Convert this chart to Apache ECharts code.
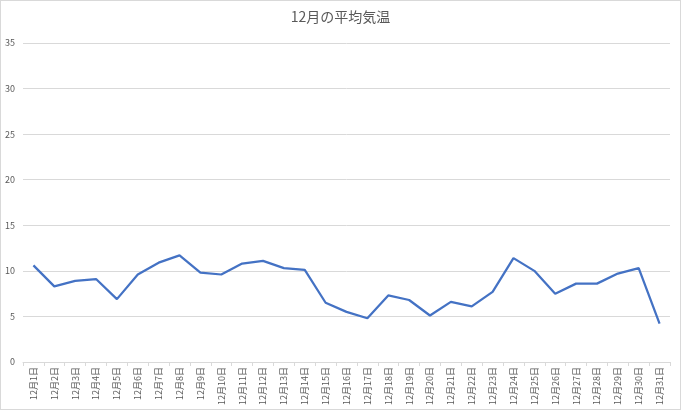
<!DOCTYPE html>
<html>
<head>
<meta charset="utf-8">
<script src="https://cdn.jsdelivr.net/npm/echarts@6/dist/echarts.min.js"></script>
<style>
  html, body { margin: 0; padding: 0; background: #fff; }
  #chart { width: 679px; height: 408px; border: 1px solid #d9d9d9; }
</style>
</head>
<body>
<div id="chart"></div>
<script>
const title = "12月の平均気温";

const days = [
  "12月1日", "12月2日", "12月3日", "12月4日", "12月5日", "12月6日", "12月7日", "12月8日",
  "12月9日", "12月10日", "12月11日", "12月12日", "12月13日", "12月14日", "12月15日", "12月16日",
  "12月17日", "12月18日", "12月19日", "12月20日", "12月21日", "12月22日", "12月23日", "12月24日",
  "12月25日", "12月26日", "12月27日", "12月28日", "12月29日", "12月30日", "12月31日",
];

const avgTemp = [
  10.6, 8.3, 8.9, 9.1, 6.9, 9.6, 10.9, 11.7,
  9.8, 9.6, 10.8, 11.1, 10.3, 10.1, 6.5, 5.5,
  4.8, 7.3, 6.8, 5.1, 6.6, 6.1, 7.7, 11.4,
  10.0, 7.5, 8.6, 8.6, 9.7, 10.3, 4.2,
];

const yMin = 0;
const yMax = 35;
const yStep = 5;

const chart = echarts.init(document.getElementById("chart"));
chart.setOption({
  animation: false,
  textStyle: { fontFamily: "Noto Sans CJK JP" },
  title: {
    text: title,
    left: "center",
    top: 4,
    textStyle: { fontSize: 14, fontWeight: "normal", color: "#595959", fontFamily: "Noto Sans CJK JP" },
  },
  grid: { left: 22, right: 10, top: 42, bottom: 47, containLabel: false },
  xAxis: {
    type: "category",
    data: days,
    boundaryGap: true,
    axisLine: { lineStyle: { color: "#d9d9d9" } },
    axisTick: { show: true, length: 4, lineStyle: { color: "#d9d9d9" } },
    axisLabel: {
      rotate: 90,
      interval: 0,
      fontSize: 9,
      color: "#595959",
      margin: 5,
    },
  },
  yAxis: {
    type: "value",
    min: yMin,
    max: yMax,
    interval: yStep,
    axisLine: { show: false },
    axisTick: { show: false },
    splitLine: { lineStyle: { color: "#d9d9d9" } },
    axisLabel: { fontSize: 9, color: "#595959", margin: 8 },
  },
  series: [
    {
      name: title,
      type: "line",
      data: avgTemp,
      symbol: "none",
      lineStyle: { color: "#4472c4", width: 2.25 },
    },
  ],
});
</script>
</body>
</html>
